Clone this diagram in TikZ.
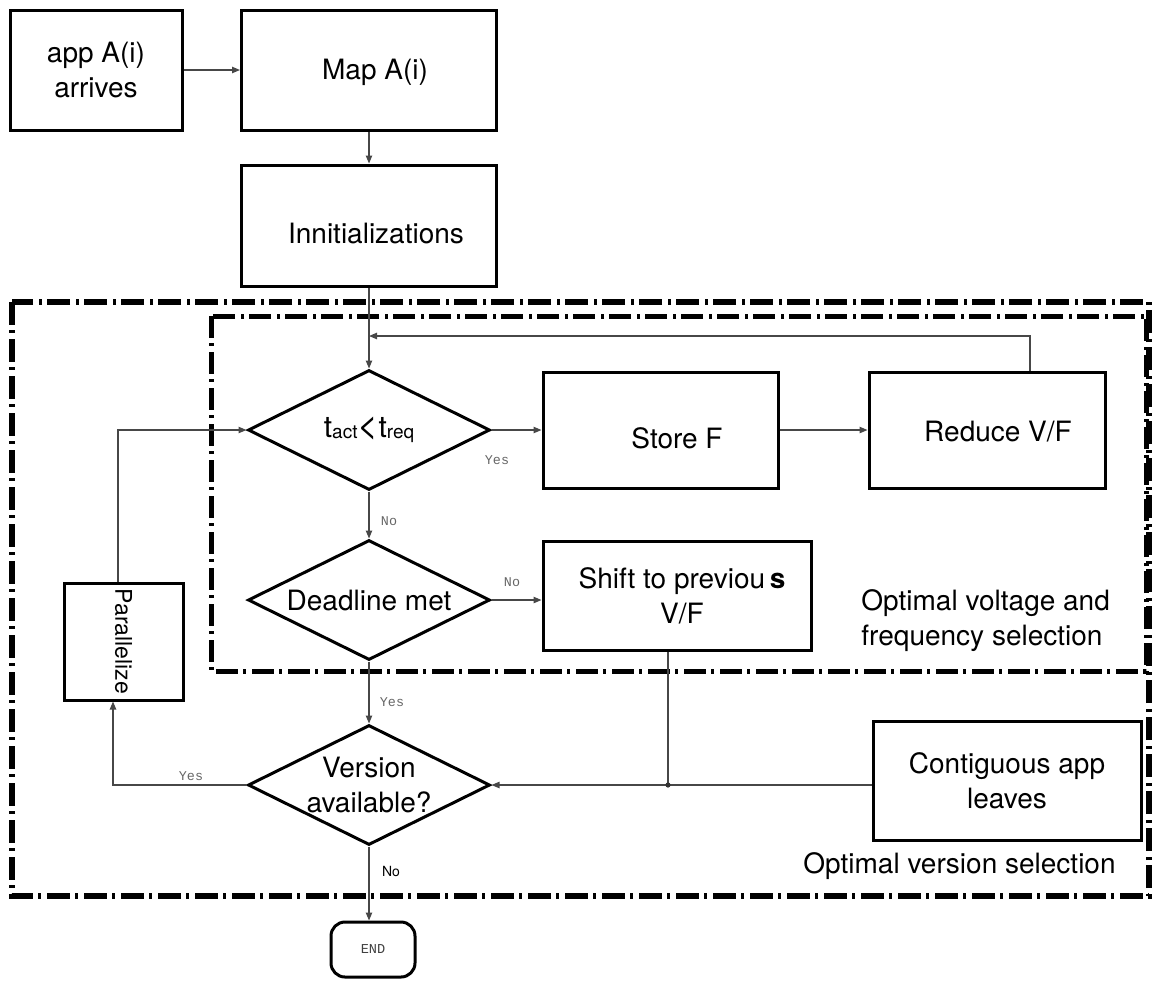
\documentclass[tikz,border=0pt]{standalone}
\usepackage{fontspec}
\setmainfont{TeX Gyre Heros}
\newfontfamily\monofont{Liberation Mono}
\usetikzlibrary{shapes.geometric,arrows.meta}
\begin{document}
\begin{tikzpicture}[x=0.5pt,y=-0.5pt,
  box/.style={draw,line width=1.5pt,inner sep=0pt,align=center,font=\fontsize{14}{17.5}\selectfont},
  txt/.style={inner sep=0pt,align=center,font=\fontsize{14}{17.5}\selectfont},
  dia/.style={draw,diamond,aspect=2,line width=1.5pt,inner sep=0pt,minimum width=121pt,minimum height=60pt,align=center,font=\fontsize{14}{17.5}\selectfont},
  conn/.style={line width=0.6pt,draw=black!72,-{Triangle[length=4pt,width=3.2pt]}},
  plain/.style={line width=0.6pt,draw=black!72},
  lbl/.style={font=\monofont\fontsize{6.7}{8}\selectfont,text=black!60,inner sep=0pt},
  sidetext/.style={font=\fontsize{14}{17.5}\selectfont,align=left,inner sep=0pt},
  grpouter/.style={line width=3pt,dash pattern=on 11.5pt off 2.5pt on 1.5pt off 3pt},
  grpinner/.style={line width=2.5pt,dash pattern=on 11pt off 2.5pt on 1.5pt off 3pt}
]
\useasboundingbox (0,0) rectangle (1155,980);

% group frames
\draw[grpouter] (12,302) rectangle (1149,896);
\draw[grpinner] (211,316) rectangle (1146,671);

% nodes
\node[box,minimum width=86pt,minimum height=60pt] (app) at (96,70) {app A(i)\\arrives};
\node[box,minimum width=127.5pt,minimum height=60pt] (map) at (369,70) {};
\node[txt] (mapT) at (375,72) {Map A(i)};
\node[box,minimum width=127.5pt,minimum height=60.5pt] (init) at (369,225.5) {};
\node[txt] (initT) at (376,233) {Innitializations};
\node[dia] (d1) at (369,430) {\fontsize{15}{17}\selectfont t{\fontsize{9.5}{10}\selectfont\raisebox{-0.6pt}{act}}{\fontsize{18}{17}\selectfont\symbol{60}}t{\fontsize{9.5}{10}\selectfont\raisebox{-0.6pt}{req}}};
\node[box,minimum width=117.5pt,minimum height=58pt] (store) at (660.5,430) {};
\node[txt] (storeT) at (677,438) {Store F};
\node[box,minimum width=118pt,minimum height=58pt] (reduce) at (987,430) {};
\node[txt] (reduceT) at (998,432) {Reduce V/F};
\node[dia] (d2) at (369,600) {Deadline met};
\node[box,minimum width=134pt,minimum height=54.5pt] (shift) at (677,595.5) {};
\node[txt] (shiftT) at (682,595.5) {Shift to previou\,\textbf{s}\\V/F};
\node[dia] (d3) at (369,785) {Version\\available?};
\node[box,minimum width=59.5pt,minimum height=58.5pt] (par) at (123.5,641.5) {\rotatebox{-90}{\fontsize{11.5}{12}\selectfont Parallelize}};
\node[box,minimum width=134pt,minimum height=59.5pt] (contig) at (1007,780.5) {Contiguous app\\leaves};
\node[draw,line width=1.5pt,rounded corners=7pt,minimum width=42pt,minimum height=27.5pt,inner sep=0pt,font=\monofont\fontsize{6.8}{8}\selectfont,text=black!75] (end) at (373,949.5) {END};

% side texts
\node[sidetext,anchor=west] (t1) at (861,621) {Optimal voltage and\\frequency selection};
\node[sidetext,anchor=base west] (t2) at (803,873) {Optimal version selection};

% connectors
\draw[conn] (app) -- (map);
\draw[conn] (map) -- (init);
\draw[conn] (init) -- (d1);
\coordinate (loopc) at (369,336);
\draw[conn] ([xshift=21.5pt]reduce.north) |- (loopc);
\draw[conn] (d1) -- (store);
\draw[conn] (store) -- (reduce);
\draw[conn] (d1) -- (d2);
\draw[conn] (d2.east) -- (d2.east -| shift.west);
\draw[conn] (d2) -- (d3);
\draw[conn] (d3.south) -- (d3.south |- end.north);
\draw[conn] (d3.west) -| ([xshift=-5.25pt]par.south);
\draw[conn] ([xshift=-2.75pt]par.north) |- (d1.west);
\draw[conn] (contig.west |- d3.east) -- (d3.east);
\coordinate (jn) at (668,785);
\draw[plain] (shift.south -| jn) -- (jn);
\fill[black!80] (jn) circle (1.3pt);

% labels
\node[lbl] (y1) at (497,460) {Yes};
\node[lbl] (n1) at (389,521) {No};
\node[lbl] (n2) at (512,582) {No};
\node[lbl] (y2) at (392,702) {Yes};
\node[lbl] (y3) at (191,776) {Yes};
\node[font=\fontsize{7}{8}\selectfont,inner sep=0pt] (n3) at (391,871) {No};
\end{tikzpicture}
\end{document}
